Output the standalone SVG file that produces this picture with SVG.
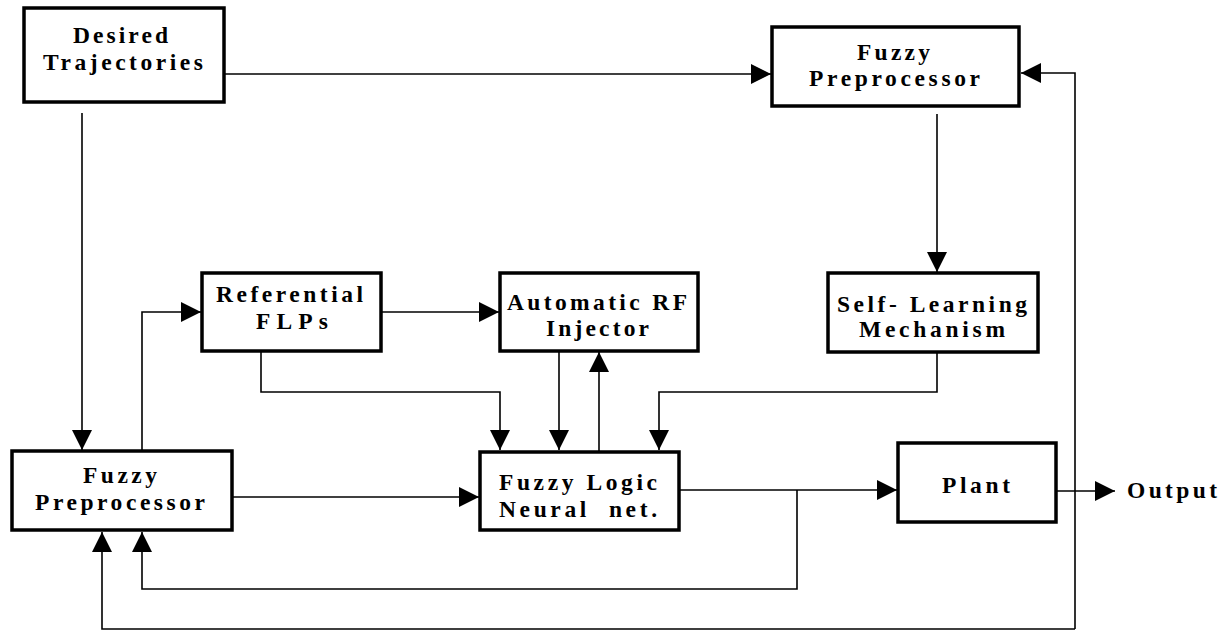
<svg xmlns="http://www.w3.org/2000/svg" width="1232" height="633" viewBox="0 0 1232 633">
<style>
.box{fill:#fff;stroke:#000;stroke-width:3.5}
.ln{fill:none;stroke:#000;stroke-width:1.6}
.t{font-family:"Liberation Serif","Times New Roman",serif;font-weight:bold;font-size:23.5px;fill:#000}
</style>
<defs>
<marker id="ah" viewBox="0 0 20 20" refX="20" refY="10" markerWidth="20" markerHeight="20" markerUnits="userSpaceOnUse" orient="auto">
<path d="M0,0 L20,10 L0,20 Z" fill="#000"/>
</marker>
</defs>
<rect width="1232" height="633" fill="#fff"/>
<g id="connectors">
<path class="ln" d="M224,74 H771" marker-end="url(#ah)"/>
<path class="ln" d="M82,113 V450" marker-end="url(#ah)"/>
<path class="ln" d="M937,114 V272" marker-end="url(#ah)"/>
<path class="ln" d="M1075,629 V73 H1021" marker-end="url(#ah)"/>
<path class="ln" d="M1075,629 H102 V532" marker-end="url(#ah)"/>
<path class="ln" d="M142,450 V312 H201" marker-end="url(#ah)"/>
<path class="ln" d="M382,312 H499" marker-end="url(#ah)"/>
<path class="ln" d="M261,352 V392 H500 V450" marker-end="url(#ah)"/>
<path class="ln" d="M559,351 V450" marker-end="url(#ah)"/>
<path class="ln" d="M599,451 V352" marker-end="url(#ah)"/>
<path class="ln" d="M937,352 V392 H659 V450" marker-end="url(#ah)"/>
<path class="ln" d="M229,497 H479" marker-end="url(#ah)"/>
<path class="ln" d="M679,490 H897" marker-end="url(#ah)"/>
<path class="ln" d="M797,490 V589 H142 V532" marker-end="url(#ah)"/>
<path class="ln" d="M1056,491 H1115" marker-end="url(#ah)"/>
</g>
<g id="desired">
<rect class="box" x="24" y="8" width="200" height="94"/>
<text class="t" x="73" y="43" textLength="95" lengthAdjust="spacing">Desired</text>
<text class="t" x="43" y="70" textLength="160" lengthAdjust="spacing">Trajectories</text>
</g>
<g id="fuzzy-top">
<rect class="box" x="772" y="27" width="247" height="79"/>
<text class="t" x="857" y="60" textLength="73" lengthAdjust="spacing">Fuzzy</text>
<text class="t" x="809" y="86" textLength="171" lengthAdjust="spacing">Preprocessor</text>
</g>
<g id="referential">
<rect class="box" x="202" y="273" width="179" height="78"/>
<text class="t" x="216" y="302" textLength="147" lengthAdjust="spacing">Referential</text>
<text class="t" x="256" y="329" textLength="72" lengthAdjust="spacing">FLPs</text>
</g>
<g id="automatic">
<rect class="box" x="500" y="273" width="198" height="78"/>
<text class="t" x="507" y="310" textLength="180" lengthAdjust="spacing">Automatic RF</text>
<text class="t" x="546" y="336" textLength="103" lengthAdjust="spacing">Injector</text>
</g>
<g id="selflearning">
<rect class="box" x="828" y="273" width="210" height="79"/>
<text class="t" x="837" y="312" textLength="190" lengthAdjust="spacing">Self- Learning</text>
<text class="t" x="859" y="337" textLength="146" lengthAdjust="spacing">Mechanism</text>
</g>
<g id="fuzzy-bottom">
<rect class="box" x="12" y="451" width="220" height="79"/>
<text class="t" x="83" y="483" textLength="74" lengthAdjust="spacing">Fuzzy</text>
<text class="t" x="35" y="510" textLength="170" lengthAdjust="spacing">Preprocessor</text>
</g>
<g id="flnn">
<rect class="box" x="480" y="452" width="199" height="78"/>
<text class="t" x="499" y="490" textLength="158" lengthAdjust="spacing">Fuzzy Logic</text>
<text class="t" x="499" y="517" textLength="158" lengthAdjust="spacing" xml:space="preserve">Neural  net.</text>
</g>
<g id="plant">
<rect class="box" x="898" y="443" width="158" height="79"/>
<text class="t" x="942" y="493" textLength="68" lengthAdjust="spacing">Plant</text>
</g>
<g id="output">
<text class="t" x="1127" y="498" textLength="90" lengthAdjust="spacing">Output</text>
</g>
</svg>
